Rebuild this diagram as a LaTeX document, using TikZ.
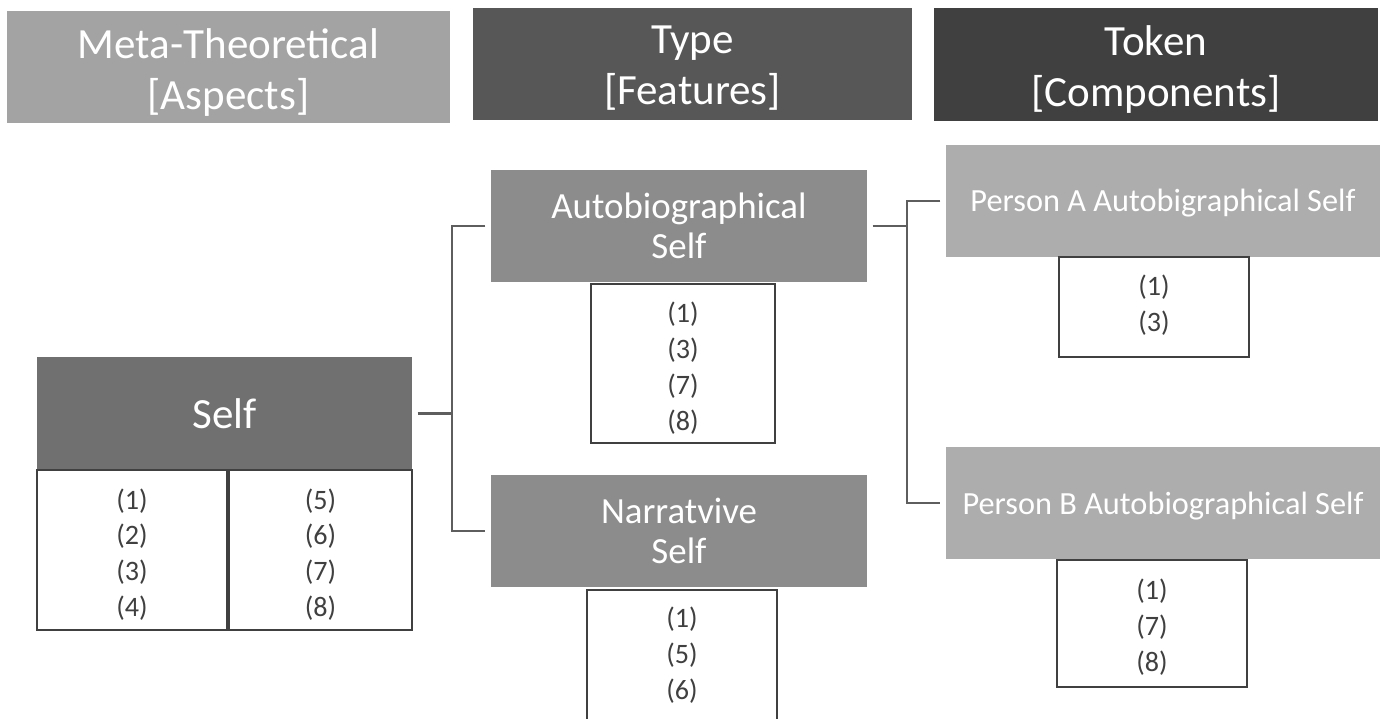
\documentclass[tikz,border=0pt]{standalone}
\usepackage{fontspec}
\setmainfont{Carlito}
\definecolor{hdrlight}{HTML}{A3A3A3}
\definecolor{hdrmid}{HTML}{575757}
\definecolor{hdrdark}{HTML}{404040}
\definecolor{selfgray}{HTML}{707070}
\definecolor{typegray}{HTML}{8C8C8C}
\definecolor{tokengray}{HTML}{ADADAD}
\definecolor{linkgray}{HTML}{5E5E5E}
\definecolor{listtext}{HTML}{404040}
\tikzset{
  sz/.style 2 args={minimum width=#1*0.02cm, minimum height=#2*0.02cm},
  dn/.style={yshift={-(#1)*0.02cm}},
  block/.style={rectangle, inner sep=0pt, draw=none, text=white, align=center},
  header/.style={block},
  headtext/.style={inner sep=0pt, text=white, align=center, font=\fontsize{24.5}{29}\selectfont},
  selfbox/.style={block, fill=selfgray, font=\fontsize{24.5}{29}\selectfont},
  typebox/.style={block, fill=typegray, font=\fontsize{21}{22.7}\selectfont},
  tokenbox/.style={block, fill=tokengray},
  tokentext/.style={inner sep=0pt, text=white, font=\fontsize{18.4}{20}\selectfont},
  listbox/.style={rectangle, inner sep=0pt, draw=hdrdark, line width=1.2pt, fill=white},
  listtext/.style={inner sep=0pt, text=listtext, align=center, font=\fontsize{16}{20.4}\selectfont},
  link/.style={draw=linkgray, line width=1.4pt}
}
\begin{document}
\begin{tikzpicture}[x=0.02cm, y=-0.02cm]
\useasboundingbox[fill=white] (0,0) rectangle (1380,719);
\begin{scope}
\clip (0,0) rectangle (1380,719);

% column headings
\node[header, fill=hdrlight, sz={443}{112}] (hmeta) at (228.5,67) {};
\node[headtext] (hmetat) at ([dn=5.5]hmeta.center) {Meta-Theoretical\\{}[Aspects]};
\node[header, fill=hdrmid, sz={439}{112}] (htype) at (692.5,64) {};
\node[headtext] (htypet) at ([dn=4.5]htype.center) {Type\\{}[Features]};
\node[header, fill=hdrdark, sz={444}{113}] (htoken) at (1156,64.5) {};
\node[headtext] (htokent) at ([dn=5]htoken.center) {Token\\{}[Components]};

% meta-theoretical self
\node[selfbox, sz={375}{113}] (self) at (224.5,413.5) {Self};
\node[listbox, sz={190}{160}] (selfl) at (132,550) {};
\node[listtext] (selflt) at ([dn=4.5]selfl.center) {(1)\\(2)\\(3)\\(4)};
\node[listbox, sz={183}{160}] (selfr) at (320.5,550) {};
\node[listtext] (selfrt) at ([dn=4.5]selfr.center) {(5)\\(6)\\(7)\\(8)};

% type level
\node[typebox, sz={376}{112}] (auto) at (679,226) {Autobiographical\\Self};
\node[listbox, sz={184}{159}] (autol) at (683,363.5) {};
\node[listtext] (autolt) at ([dn=4.5]autol.center) {(1)\\(3)\\(7)\\(8)};
\node[typebox, sz={376}{112}] (narr) at (679,531) {Narratvive\\Self};
\node[listbox, sz={190}{170}, anchor=north] (narrl) at (682,589) {};
\node[listtext] (narrlt) at (682,655) {(1)\\(5)\\(6)};

% token level
\node[tokenbox, sz={434}{112}] (pera) at (1163,201) {};
\node[tokentext] (perat) at ([dn=2]pera.center) {Person A Autobigraphical Self};
\node[listbox, sz={190}{100}] (peral) at (1154,307) {};
\node[listtext] (peralt) at ([dn=-1.5]peral.center) {(1)\\(3)};
\node[tokenbox, sz={434}{112}] (perb) at (1163,503) {};
\node[tokentext] (perbt) at ([dn=3]perb.center) {Person B Autobiographical Self};
\node[listbox, sz={190}{127}] (perbl) at (1152,623.5) {};
\node[listtext] (perblt) at ([dn=4]perbl.center) {(1)\\(7)\\(8)};
\end{scope}

% bracket connectors
\coordinate (jl) at (452,0);
\coordinate (jr) at (907,0);
\draw[link] ([xshift=3]self.east) -- (self.east -| jl);
\draw[link] ([xshift=-3]auto.west) -| (jl |- narr.west) -- ([xshift=-3]narr.west);
\draw[link] ([xshift=3]auto.east) -- (jr |- auto.east);
\draw[link] ([xshift=-3]pera.west) -| (jr |- perb.west) -- ([xshift=-3]perb.west);
\end{tikzpicture}
\end{document}
